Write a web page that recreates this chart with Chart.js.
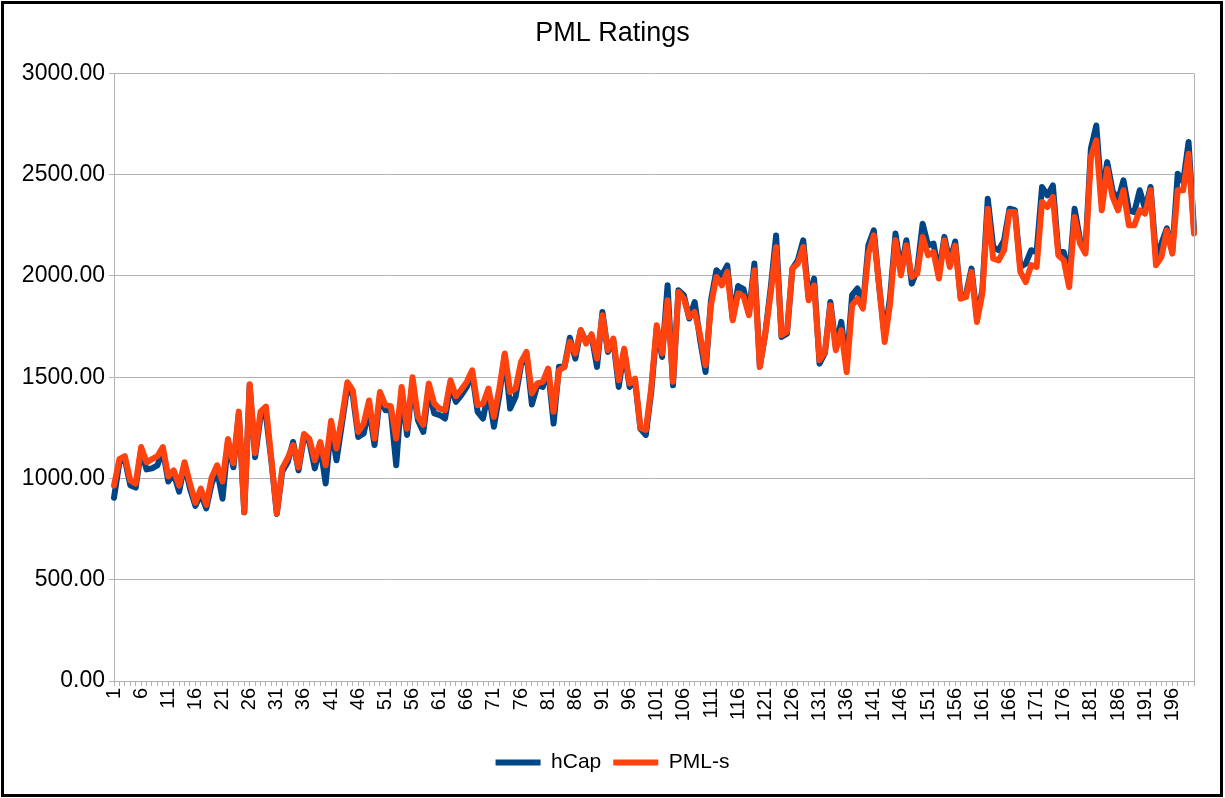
<!DOCTYPE html>
<html>
<head>
<meta charset="utf-8">
<script src="https://cdn.jsdelivr.net/npm/chart.js@4/dist/chart.umd.min.js"></script>
<style>
html,body{margin:0;padding:0;background:#fff;}
#wrap{position:absolute;left:0;top:0;width:1225px;height:798px;}
#frame{position:absolute;left:1px;top:1px;width:1216px;height:790px;border:3px solid #000;pointer-events:none;}
canvas{position:absolute;left:0;top:0;}
</style>
</head>
<body>
<div id="wrap">
<canvas id="c" width="1225" height="798"></canvas>
<div id="frame"></div>
</div>
<script>
const categories = Array.from({length: 200}, (_, i) => String(i + 1));
const seriesNames = ["hCap", "PML-s"];
const yTicks = [0, 500, 1000, 1500, 2000, 2500, 3000];

const hCap = [
905,1080,1095,967,955,1140,1045,1050,1065,1140,
985,1025,935,1070,950,865,925,852,975,1040,
900,1180,1055,1320,833,1460,1105,1305,1312,1085,
825,1035,1080,1180,1040,1205,1180,1050,1160,975,
1255,1090,1270,1450,1410,1205,1222,1345,1165,1403,
1337,1337,1065,1427,1215,1470,1288,1230,1440,1321,
1313,1296,1460,1378,1411,1452,1518,1329,1296,1428,
1255,1411,1609,1345,1403,1559,1617,1365,1461,1452,
1534,1271,1551,1551,1695,1592,1732,1674,1705,1551,
1822,1625,1683,1452,1633,1452,1485,1245,1215,1430,
1740,1600,1954,1460,1929,1905,1790,1871,1683,1526,
1880,2028,2003,2052,1790,1950,1935,1815,2061,1551,
1715,1940,2200,1699,1715,2036,2077,2176,1890,1987,
1567,1620,1871,1650,1773,1560,1905,1938,1850,2151,
2225,1946,1700,1895,2209,2025,2176,1962,2030,2258,
2151,2160,2010,2193,2069,2170,1895,1910,2036,1795,
1930,2381,2143,2127,2175,2332,2325,2045,2061,2127,
2118,2439,2398,2447,2120,2118,2000,2332,2180,2130,
2628,2743,2390,2562,2420,2373,2472,2324,2315,2423,
2330,2439,2094,2160,2235,2120,2505,2464,2661,2230
];

const pmlS = [
965,1095,1110,990,975,1155,1080,1095,1110,1155,
1010,1040,965,1080,975,880,950,870,1005,1065,
985,1195,1075,1330,835,1465,1125,1330,1355,1095,
827,1050,1100,1165,1055,1220,1195,1090,1180,1065,
1285,1148,1300,1475,1435,1230,1270,1385,1197,1427,
1362,1357,1197,1452,1245,1500,1305,1265,1469,1370,
1345,1337,1485,1406,1439,1477,1534,1362,1370,1444,
1304,1444,1617,1427,1444,1575,1625,1420,1469,1477,
1543,1329,1534,1551,1674,1617,1732,1666,1712,1592,
1806,1633,1691,1485,1641,1469,1493,1250,1240,1450,
1757,1617,1880,1477,1921,1888,1797,1822,1707,1559,
1855,1995,1954,2020,1781,1913,1900,1806,2028,1551,
1715,1913,2143,1707,1724,2036,2061,2143,1880,1954,
1584,1625,1855,1633,1732,1525,1855,1888,1839,2110,
2200,1946,1674,1863,2176,2003,2151,1995,2011,2193,
2102,2118,1987,2176,2044,2150,1888,1896,2020,1773,
1913,2332,2085,2077,2127,2316,2316,2020,1970,2053,
2044,2365,2340,2390,2102,2077,1945,2291,2160,2110,
2587,2669,2324,2529,2390,2324,2423,2250,2250,2324,
2308,2423,2053,2094,2225,2110,2423,2423,2603,2209
];

const FONT = "'Liberation Sans', Arial, sans-serif";
Chart.defaults.font.family = FONT;
Chart.defaults.color = '#000';

const frameRight = {
  id: 'frameRight',
  afterDraw(chart) {
    const a = chart.chartArea, ctx = chart.ctx;
    ctx.save();
    ctx.strokeStyle = '#b3b3b3';
    ctx.lineWidth = 1;
    ctx.beginPath();
    ctx.moveTo(Math.round(a.right) + 0.5, a.top);
    ctx.lineTo(Math.round(a.right) + 0.5, a.bottom);
    ctx.stroke();
    ctx.restore();
  }
};

new Chart(document.getElementById('c'), {
  type: 'line',
  data: {
    labels: categories,
    datasets: [
      {label: seriesNames[0], data: hCap, borderColor: '#004586', backgroundColor: '#004586', borderWidth: 6, order: 2},
      {label: seriesNames[1], data: pmlS, borderColor: '#ff420e', backgroundColor: '#ff420e', borderWidth: 6, order: 1}
    ]
  },
  options: {
    responsive: false,
    animation: false,
    devicePixelRatio: 1,
    elements: {
      line: {tension: 0, borderCapStyle: 'round', borderJoinStyle: 'round'},
      point: {radius: 0, hoverRadius: 0}
    },
    layout: {padding: {left: 10, right: 10, top: 0, bottom: 15}},
    plugins: {
      title: {display: true, text: 'PML Ratings', color: '#000',
        font: {size: 27, weight: 'normal', family: FONT}, padding: {top: 17, bottom: 24}},
      legend: {position: 'bottom',
        labels: {usePointStyle: true, pointStyle: 'line', pointStyleWidth: 45, boxHeight: 21,
          font: {size: 21, family: FONT}, color: '#000', padding: 12,
          sort: (a, b) => a.datasetIndex - b.datasetIndex}},
      tooltip: {enabled: false}
    },
    scales: {
      x: {
        offset: false,
        grid: {display: true, drawOnChartArea: false, drawTicks: true, tickLength: 5, color: '#b3b3b3'},
        border: {display: true, color: '#b3b3b3'},
        ticks: {autoSkip: false, minRotation: 90, maxRotation: 90, padding: 2,
          font: {size: 20, family: FONT}, color: '#000',
          callback: function(v, i) { return (i % 5 === 0) ? categories[i] : ''; }},
        afterFit: s => { s.height = 59; }
      },
      y: {
        min: 0, max: 3000,
        afterBuildTicks: s => { s.ticks = yTicks.map(v => ({value: v})); },
        grid: {color: '#b3b3b3', tickLength: 5},
        border: {display: true, color: '#b3b3b3'},
        ticks: {padding: 4, font: {size: 23, family: FONT}, color: '#000',
          callback: v => Number(v).toFixed(2)},
        afterFit: s => { s.width = 104; }
      },
      yRight: {
        position: 'right',
        min: 0, max: 3000,
        grid: {display: false, drawTicks: false},
        border: {display: false},
        ticks: {display: false},
        afterFit: s => { s.width = 21; }
      }
    }
  },
  plugins: [frameRight]
});
</script>
</body>
</html>
